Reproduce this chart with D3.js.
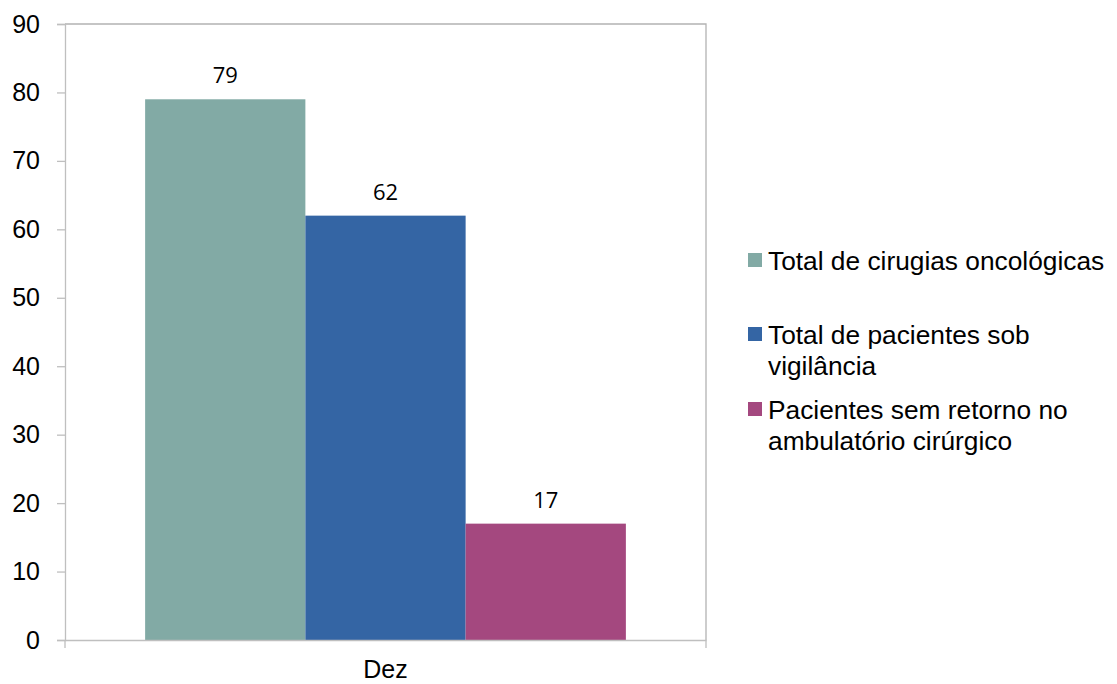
<!DOCTYPE html>
<html>
<head>
<meta charset="utf-8">
<script src="https://cdn.jsdelivr.net/npm/d3@7"></script>
<style>
  body { margin: 0; background: #fff; }
  text { font-family: "Liberation Sans", Arial, sans-serif; }
</style>
</head>
<body>
<svg id="chart" width="1117" height="684"></svg>
<script>
var categories = ["Dez"];
var seriesNames = [
    ["Total de cirugias oncológicas"],
    ["Total de pacientes sob", "vigilância"],
    ["Pacientes sem retorno no", "ambulatório cirúrgico"]
];
var seriesValues = [79, 62, 17];
var seriesColors = ["#82aaa5", "#3465a4", "#a4487f"];
var yTicks = [0, 10, 20, 30, 40, 50, 60, 70, 80, 90];

var svg = d3.select("#chart"),
    plotLeft = 65, plotRight = 706, plotTop = 24, plotBottom = 640;

var x0 = d3.scaleBand().domain(categories).range([plotLeft, plotRight]).paddingInner(0).paddingOuter(0);
var x1 = d3.scaleBand().domain(d3.range(seriesValues.length))
    .range([0, x0.bandwidth()]).paddingInner(0).paddingOuter(0.5);
var y = d3.scaleLinear().domain([0, 90]).range([plotBottom, plotTop]);

// plot border (top / right)
svg.append("path")
    .attr("d", "M" + plotLeft + "," + plotTop + "H" + plotRight + "V" + plotBottom)
    .attr("fill", "none").attr("stroke", "#b3b3b3").attr("stroke-width", 1.3);

// y axis
var yAxis = svg.append("g")
    .attr("transform", "translate(" + plotLeft + ",0)")
    .call(d3.axisLeft(y).tickValues(yTicks).tickSize(8).tickPadding(17));
yAxis.select(".domain").attr("stroke", "#bfbfbf").attr("stroke-width", 1.3);
yAxis.selectAll(".tick line").attr("stroke", "#bfbfbf").attr("stroke-width", 1.3);
yAxis.selectAll("text").attr("font-size", 25).attr("fill", "#000");

// bars
svg.append("g").selectAll("rect")
    .data(seriesValues)
  .enter().append("rect")
    .attr("x", function(d, i) { return x0("Dez") + x1(i); })
    .attr("y", function(d) { return y(d); })
    .attr("width", x1.bandwidth())
    .attr("height", function(d) { return y(0) - y(d); })
    .attr("fill", function(d, i) { return seriesColors[i]; });

// value labels
svg.append("g").selectAll("text")
    .data(seriesValues)
  .enter().append("text")
    .attr("x", function(d, i) { return x0("Dez") + x1(i) + x1.bandwidth() / 2; })
    .attr("y", function(d) { return y(d) - 16; })
    .attr("text-anchor", "middle")
    .style("font-size", "22px")
    .style("font-family", "'Open Sans', sans-serif")
    .attr("fill", "#000")
    .text(function(d) { return d; });

// x axis
var xAxis = svg.append("g")
    .attr("transform", "translate(0," + plotBottom + ")")
    .call(d3.axisBottom(x0).tickSize(0).tickPadding(20));
xAxis.select(".domain").attr("stroke", "#bfbfbf").attr("stroke-width", 1.3);
xAxis.selectAll("text").attr("font-size", 25).attr("fill", "#000");
xAxis.selectAll("line.edge")
    .data([plotLeft, plotRight])
  .enter().append("line")
    .attr("class", "edge")
    .attr("x1", function(d) { return d; }).attr("x2", function(d) { return d; })
    .attr("y1", 0).attr("y2", 8)
    .attr("stroke", "#bfbfbf").attr("stroke-width", 1.3);

// legend
var legendY = [261, 335, 410];
var legend = svg.append("g").selectAll("g")
    .data(seriesNames)
  .enter().append("g")
    .attr("transform", function(d, i) { return "translate(748," + legendY[i] + ")"; });
legend.append("rect")
    .attr("x", 0).attr("y", -8).attr("width", 14).attr("height", 14)
    .attr("fill", function(d, i) { return seriesColors[i]; });
legend.append("text")
    .attr("x", 20).attr("y", 9)
    .attr("font-size", 26.3).attr("fill", "#000")
    .selectAll("tspan")
    .data(function(d) { return d; })
  .enter().append("tspan")
    .attr("x", 20)
    .attr("dy", function(d, i) { return i === 0 ? 0 : 31; })
    .text(function(d) { return d; });
</script>
</body>
</html>
